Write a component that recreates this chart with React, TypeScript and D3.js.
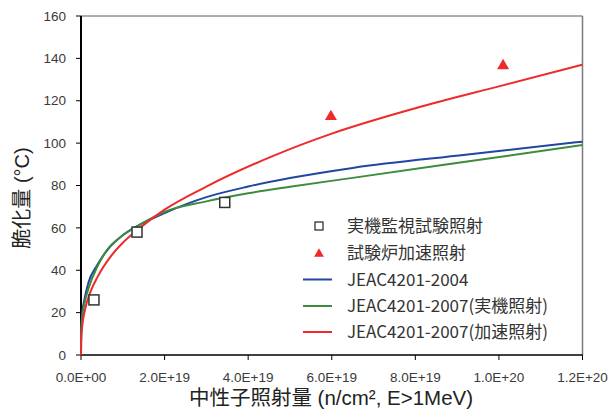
import React from 'react';
import * as d3 from 'd3';

// Axis ticks
const xTickValues = [0, 2e19, 4e19, 6e19, 8e19, 1e20, 1.2e20];
const yTickValues = [0, 20, 40, 60, 80, 100, 120, 140, 160];

// Measured data (fluence in n/cm², shift in °C)
const surveillanceFluence = [0.31e19, 1.34e19, 3.44e19];
const surveillanceShift = [26, 58, 72];
const reactorFluence = [5.98e19, 10.1e19];
const reactorShift = [113, 137];

// Prediction curves (fluence in units of 1e19 n/cm²)
const jeac2004Fluence = [0, 0.003, 0.03, 0.08, 0.175, 0.375, 0.65, 1.0, 1.41, 2.0, 3.0, 4.0, 5.0, 6.5, 9.2, 12];
const jeac2004Shift = [0, 10, 20, 26, 34, 42, 50, 56.5, 61.5, 67, 74.5, 79.5, 83.5, 88.3, 94.5, 100.7];

const jeac2007PlantFluence = [0, 0.003, 0.03, 0.08, 0.19, 0.375, 0.6, 1.0, 1.41, 2.0, 3.0, 4.0, 5.0, 6.5, 9.2, 12];
const jeac2007PlantShift = [0, 9, 18, 24, 32, 41, 49, 56.5, 61.5, 67.5, 72.5, 76.3, 79.4, 83.6, 91.2, 99.1];

const jeac2007AccelFluence = [0, 0.003, 0.01, 0.03, 0.1, 0.23, 0.4, 0.73, 1.0, 1.41, 2.0, 3.0, 4.6, 6.0, 8.0, 10.0, 12];
const jeac2007AccelShift = [0, 5, 9, 13.7, 21.7, 30, 37, 47, 53, 60, 68.6, 79.5, 94, 104.5, 116.5, 126.8, 137];

const legendLabels = [
  '実機監視試験照射',
  '試験炉加速照射',
  'JEAC4201-2004',
  'JEAC4201-2007(実機照射)',
  'JEAC4201-2007(加速照射)',
];

const RED = '#EE2A2A';
const BLUE = '#2146A0';
const GREEN = '#3C8C3C';

const W = 611;
const H = 418;
const plot = { left: 81, right: 582.5, top: 16, bottom: 355 };

const x = d3.scaleLinear().domain([0, 1.2e20]).range([plot.left, plot.right]);
const y = d3.scaleLinear().domain([0, 160]).range([plot.bottom, plot.top]);

function sci(v: number): string {
  if (v === 0) return '0.0E+00';
  const e = Math.floor(Math.log10(v) + 1e-9);
  const m = v / Math.pow(10, e);
  return `${m.toFixed(1)}E+${String(e).padStart(2, '0')}`;
}

const line = d3
  .line<[number, number]>()
  .x((d) => x(d[0] * 1e19))
  .y((d) => y(d[1]))
  .curve(d3.curveMonotoneX);

const curves = [
  { fx: jeac2004Fluence, fy: jeac2004Shift, color: BLUE },
  { fx: jeac2007PlantFluence, fy: jeac2007PlantShift, color: GREEN },
  { fx: jeac2007AccelFluence, fy: jeac2007AccelShift, color: RED },
];

const tickFont = '"Liberation Sans", Arial, sans-serif';
const jpFont = '"Liberation Sans", "Noto Sans CJK JP", sans-serif';
const legendFont = '"Noto Sans CJK JP", sans-serif';

const triangle = d3.symbol().type(d3.symbolTriangle).size(62);

export default function App() {
  const legendX = 319;
  const legendTextX = 347;
  const legendRows = [226, 253, 279.5, 306, 332];

  return (
    <svg
      width={W}
      height={H}
      viewBox={`0 0 ${W} ${H}`}
      style={{ position: 'absolute', left: 0, top: 0, background: '#fff' }}
    >
      <rect x={0} y={0} width={W} height={H} fill="#fff" />

      {/* frame */}
      <line x1={plot.left} x2={plot.right} y1={plot.top} y2={plot.top} stroke="#5a5a5a" strokeWidth={1} />
      <line x1={plot.right} x2={plot.right} y1={plot.top} y2={plot.bottom} stroke="#7a7a7a" strokeWidth={1.5} />

      {/* y axis */}
      <line x1={plot.left} x2={plot.left} y1={plot.top} y2={plot.bottom} stroke="#000" strokeWidth={2} />
      {yTickValues.map((v) => (
        <g key={`y${v}`}>
          <line x1={plot.left - 5} x2={plot.left} y1={y(v)} y2={y(v)} stroke="#000" strokeWidth={1} />
          <text
            x={66}
            y={y(v)}
            dy="0.35em"
            textAnchor="end"
            fontFamily={tickFont}
            fontSize={13.5}
            fill="#3a3a3a"
          >
            {v}
          </text>
        </g>
      ))}

      {/* x axis */}
      <line x1={plot.left} x2={plot.right} y1={plot.bottom} y2={plot.bottom} stroke="#000" strokeWidth={1.5} />
      {xTickValues.map((v) => (
        <g key={`x${v}`}>
          <line x1={x(v)} x2={x(v)} y1={plot.bottom} y2={plot.bottom + 5} stroke="#000" strokeWidth={1} />
          <text
            x={x(v)}
            y={382}
            textAnchor="middle"
            fontFamily={tickFont}
            fontSize={13.5}
            fill="#3a3a3a"
          >
            {sci(v)}
          </text>
        </g>
      ))}

      {/* prediction curves */}
      {curves.map((c, i) => (
        <path
          key={`c${i}`}
          d={line(c.fx.map((f, j) => [f, c.fy[j]] as [number, number])) || ''}
          fill="none"
          stroke={c.color}
          strokeWidth={2}
        />
      ))}

      {/* surveillance data */}
      {surveillanceFluence.map((f, i) => (
        <rect
          key={`s${i}`}
          x={x(f) - 5}
          y={y(surveillanceShift[i]) - 5}
          width={10}
          height={10}
          fill="#fff"
          stroke="#333"
          strokeWidth={1.5}
        />
      ))}

      {/* test reactor data */}
      {reactorFluence.map((f, i) => (
        <path
          key={`r${i}`}
          d={triangle() || ''}
          transform={`translate(${x(f)},${y(reactorShift[i]) + 1})`}
          fill={RED}
        />
      ))}

      {/* legend */}
      <rect x={legendX - 4} y={legendRows[0] - 4} width={8} height={8} fill="#fff" stroke="#333" strokeWidth={1.3} />
      <path d={d3.symbol().type(d3.symbolTriangle).size(42)() || ''} transform={`translate(${legendX},${legendRows[1] + 1})`} fill={RED} />
      {[BLUE, GREEN, RED].map((c, i) => (
        <line key={`ll${i}`} x1={303} x2={332} y1={legendRows[i + 2]} y2={legendRows[i + 2]} stroke={c} strokeWidth={2} />
      ))}
      {legendLabels.map((t, i) => (
        <text
          key={`lt${i}`}
          x={legendTextX}
          y={legendRows[i]}
          dy="0.36em"
          fontFamily={legendFont}
          fontSize={17}
          fill="#333"
        >
          {t}
        </text>
      ))}

      {/* axis titles */}
      <text
        transform={`translate(22,198) rotate(-90)`}
        textAnchor="middle"
        dy="0.35em"
        fontFamily={jpFont}
        fontSize={20}
        fill="#222"
      >
        脆化量 (°C)
      </text>
      <text x={331} y={405} textAnchor="middle" fontFamily={jpFont} fontSize={20.5} fill="#222">
        中性子照射量 (n/cm², E&gt;1MeV)
      </text>
    </svg>
  );
}
